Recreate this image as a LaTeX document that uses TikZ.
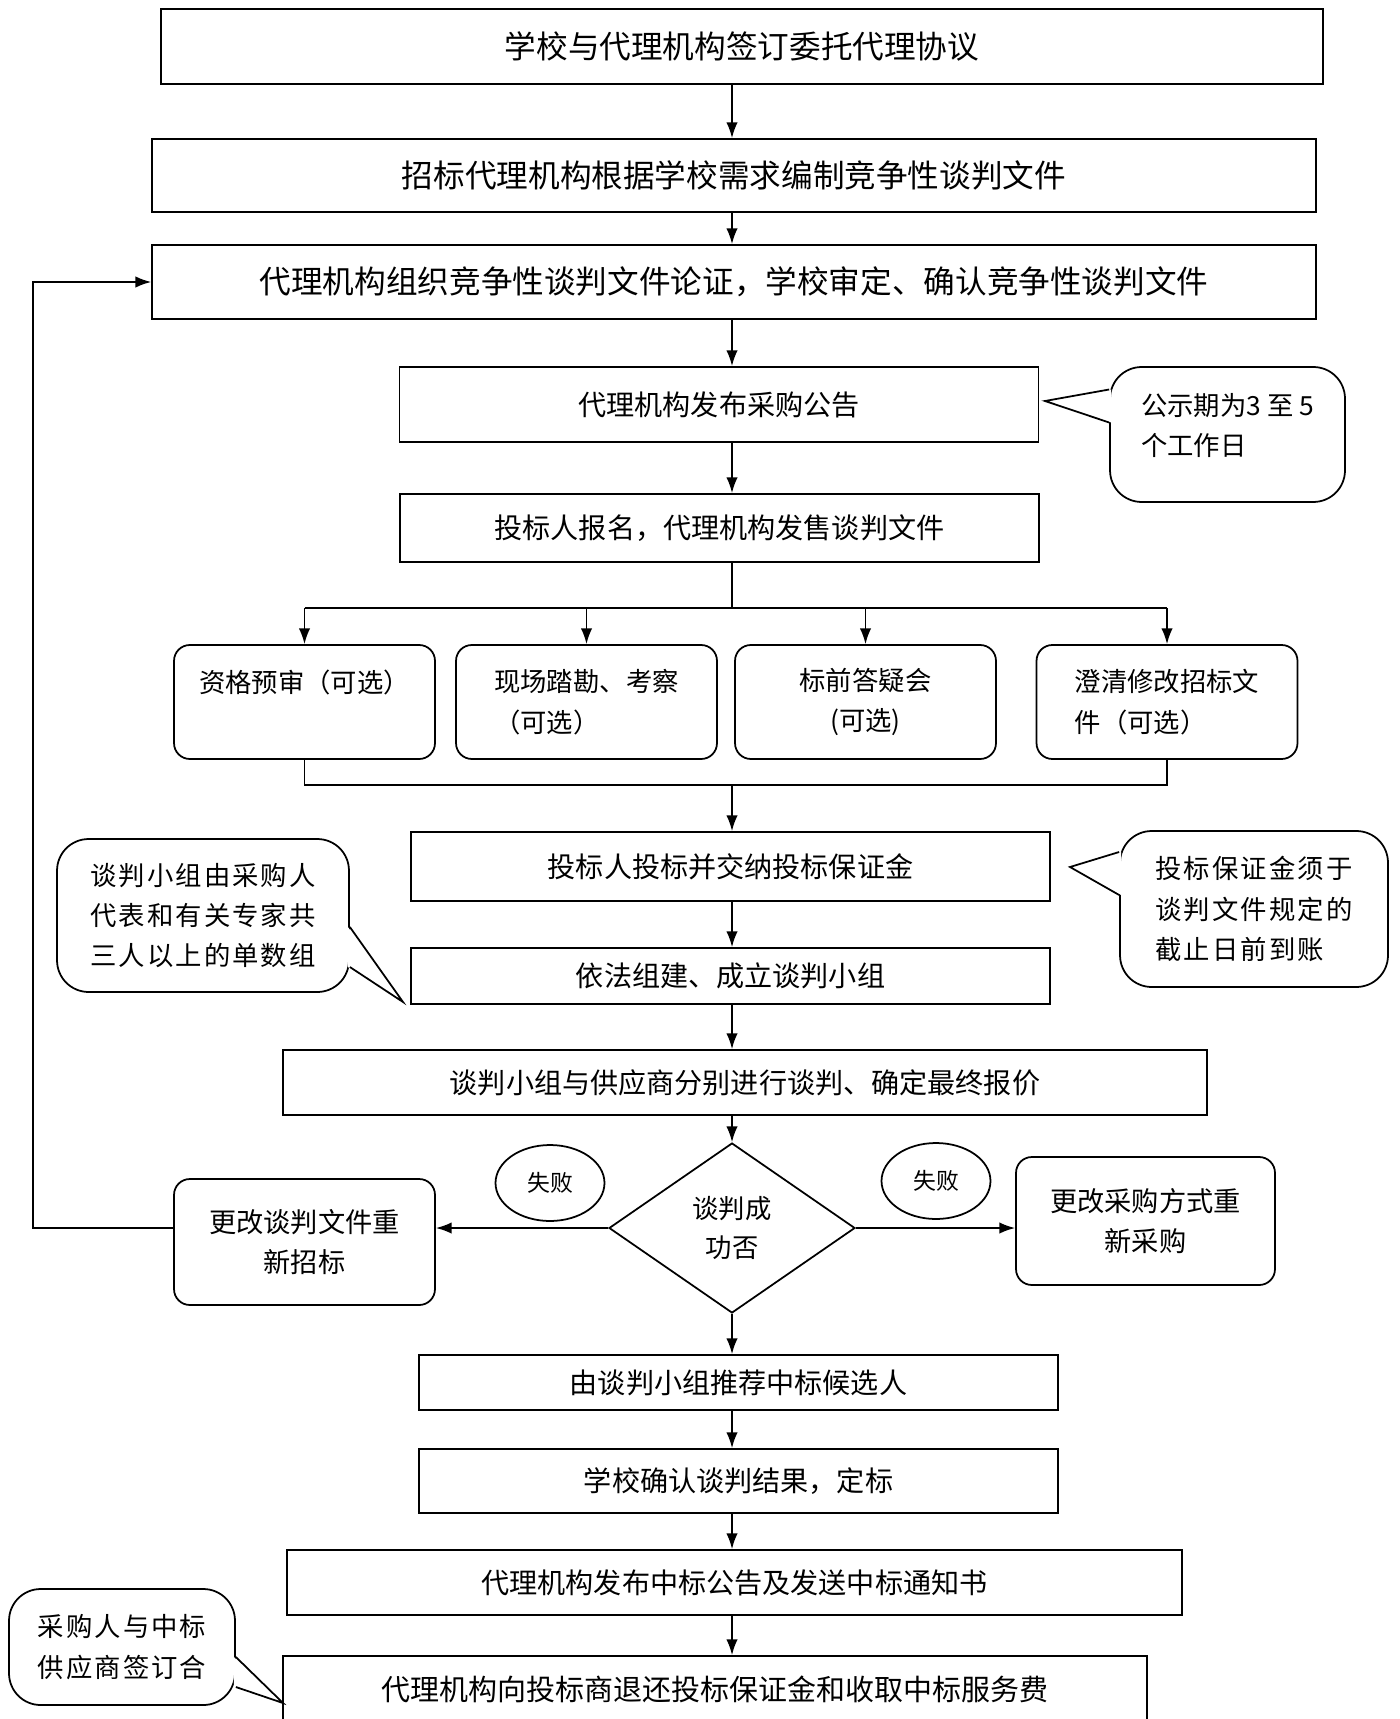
\documentclass[tikz,border=0pt]{standalone}
\usepackage{fontspec}
\setmainfont{Noto Sans CJK SC}
\newfontfamily\widecjk[LetterSpace=8]{Noto Sans CJK SC}
\usetikzlibrary{shapes.geometric,arrows.meta,calc}

\begin{document}
\begin{tikzpicture}[x=0.02cm,y=-0.02cm,line width=1pt,
    box/.style={draw,minimum width=12.78cm,align=center,font=\fontsize{16pt}{22pt}\selectfont},
    bigbox/.style={box,minimum width=23.28cm,font=\fontsize{18pt}{22pt}\selectfont},
    optbox/.style={draw,rounded corners=9pt,minimum width=5.22cm,minimum height=2.28cm,font=\fontsize{15pt}{23pt}\selectfont},
    note/.style={draw,fill=white,rounded corners=18pt,align=left,font={\widecjk\fontsize{15pt}{23pt}\selectfont}},
    fail/.style={draw,ellipse,inner sep=0pt,minimum width=2.18cm,minimum height=1.52cm,font=\fontsize{13pt}{15pt}\selectfont},
    arr/.style={-{Latex[length=9pt,width=6.5pt]}}]

            \useasboundingbox (0,0) rectangle (1399,1719);
            \coordinate (spine) at (732,0);

            \node[bigbox,minimum width=23.24cm,minimum height=1.5cm] (b1) at (742,46.5) {学校与代理机构签订委托代理协议};
            \node[bigbox,minimum height=1.46cm] (b2) at (734,175.5) {招标代理机构根据学校需求编制竞争性谈判文件};
            \node[bigbox,minimum height=1.48cm] (b3) at (734,282) {代理机构组织竞争性谈判文件论证，学校审定、确认竞争性谈判文件};
            \node[box,minimum height=1.5cm] (b4) at (719,404.5) {代理机构发布采购公告};
            \node[box,minimum height=1.36cm] (b5) at (719.5,528) {投标人报名，代理机构发售谈判文件};

            \node[optbox,align=center] (o1) at (304.5,702) {资格预审（可选）\\\phantom{可}};
            \node[optbox,align=left] (o2) at (586.5,702) {现场踏勘、考察\\（可选）};
            \node[optbox,align=center] (o3) at (865.5,702) {标前答疑会\\(可选)};
            \node[optbox,align=left] (o4) at (1167,702) {澄清修改招标文\\件（可选）};

            \node[box,minimum height=1.38cm] (b6) at (730.5,866.5) {投标人投标并交纳投标保证金};
            \node[box,minimum height=1.12cm] (b7) at (730.5,976) {依法组建、成立谈判小组};
            \node[box,minimum width=18.48cm,minimum height=1.3cm] (b8) at (745,1082.5) {谈判小组与供应商分别进行谈判、确定最终报价};

            \node[draw,diamond,aspect=1.45,inner sep=0pt,minimum width=4.92cm,minimum height=3.4cm,align=center,font=\fontsize{15pt}{22pt}\selectfont] (dia) at (732,1228) {谈判成\\功否};
            \node[optbox,minimum height=2.52cm,align=center,font=\fontsize{15.5pt}{23pt}\selectfont] (lb) at (304.5,1242) {更改谈判文件重\\新招标};
            \node[optbox,minimum width=5.18cm,minimum height=2.56cm,align=center,font=\fontsize{15.5pt}{23pt}\selectfont] (rb) at (1145.5,1221) {更改采购方式重\\新采购};
            \node[fail] (fl) at (550,1183) {失败};
            \node[fail] (fr) at (936,1181) {失败};

            \node[box,minimum height=1.1cm] (b9) at (738.5,1382.5) {由谈判小组推荐中标候选人};
            \node[box,minimum height=1.28cm] (b10) at (738.5,1481) {学校确认谈判结果，定标};
            \node[box,minimum width=17.9cm,minimum height=1.3cm] (b11) at (734.5,1582.5) {代理机构发布中标公告及发送中标通知书};
            \node[box,minimum width=17.28cm,minimum height=1.32cm,font=\fontsize{16.5pt}{22pt}\selectfont] (b12) at (715,1689) {代理机构向投标商退还投标保证金和收取中标服务费};

            \draw[arr] (b1.south -| spine) -- (b2.north -| spine);
            \draw[arr] (b2.south -| spine) -- (b3.north -| spine);
            \draw[arr] (b3.south -| spine) -- (b4.north -| spine);
            \draw[arr] (b4.south -| spine) -- (b5.north -| spine);

            \coordinate (split) at (732,608);
            \draw (b5.south -| spine) -- (split);
            \draw (split -| o1) -- (split -| o4);
            \foreach \o in {o1,o2,o3,o4}
                \draw[arr] (split -| \o) -- (\o.north);
            \coordinate (join) at (732,785);
            \draw (o1.south) -- (join -| o1) -- (join -| o4) -- (o4.south);
            \draw[arr] (join) -- (b6.north -| spine);

            \draw[arr] (b6.south -| spine) -- (b7.north -| spine);
            \draw[arr] (b7.south -| spine) -- (b8.north -| spine);
            \draw[arr] (b8.south -| spine) -- (dia.north);
            \draw[arr] (dia.west) -- (dia.west -| lb.east);
            \draw[arr] (dia.east) -- (dia.east -| rb.west);
            \coordinate (back) at (33,1228);
            \draw[arr] (dia.west -| lb.west) -- (back) -- (back |- b3.west) -- (b3.west);

            \draw[arr] (dia.south) -- (b9.north -| spine);
            \draw[arr] (b9.south -| spine) -- (b10.north -| spine);
            \draw[arr] (b10.south -| spine) -- (b11.north -| spine);
            \draw[arr] (b11.south -| spine) -- (b12.north -| spine);

            % notes with pointers
            \node[note,minimum width=4.7cm,minimum height=2.7cm,font=\fontsize{15pt}{23pt}\selectfont] (c1) at (1227.5,434.5) {公示期为3 至 5\\个工作日\\[-11.5pt]\mbox{}};
            \coordinate (t1) at (1045,401);
            \fill[white] ($(c1.west)+(2,-45)$) -- (t1) -- ($(c1.west)+(2,-12)$) -- cycle;
            \draw ($(c1.west)+(0,-45)$) -- (t1) -- ($(c1.west)+(0,-12)$);

            \node[note,minimum width=5.36cm,minimum height=3.12cm] (c2) at (1254,909) {投标保证金须于\\谈判文件规定的\\截止日前到账};
            \coordinate (t2) at (1070,867);
            \fill[white] ($(c2.west)+(2,-57)$) -- (t2) -- ($(c2.west)+(2,-14)$) -- cycle;
            \draw ($(c2.west)+(0,-57)$) -- (t2) -- ($(c2.west)+(0,-14)$);

            \node[note,minimum width=5.84cm,minimum height=3.06cm] (c3) at (203,915.5) {谈判小组由采购人\\代表和有关专家共\\三人以上的单数组};
            \coordinate (t3) at (403,1002);
            \fill[white] ($(c3.east)+(-2,11.5)$) -- (t3) -- ($(c3.east)+(-2,51.5)$) -- cycle;
            \draw ($(c3.east)+(0,11.5)$) -- (t3) -- ($(c3.east)+(0,51.5)$);

            \node[note,minimum width=4.52cm,minimum height=2.32cm] (c4) at (122,1647) {采购人与中标\\供应商签订合};
            \coordinate (t4) at (283,1703);
            \fill[white] ($(c4.east)+(-2,10)$) -- (t4) -- ($(c4.east)+(-2,40)$) -- cycle;
            \draw ($(c4.east)+(0,10)$) -- (t4) -- ($(c4.east)+(0,40)$);
\end{tikzpicture}
\end{document}
